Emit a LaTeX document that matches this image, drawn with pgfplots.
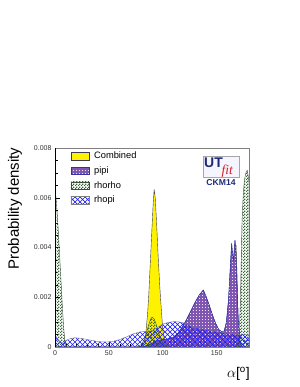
\documentclass[border=0pt]{standalone}
\usepackage{fontspec}
\setmainfont{Liberation Sans}
\newfontfamily\seriffont{Liberation Serif}
\usepackage{pgfplots}
\pgfplotsset{compat=1.18}
\usetikzlibrary{patterns}

\definecolor{pipic}{RGB}{128,86,178}
\definecolor{pipiline}{RGB}{50,50,160}
\definecolor{rhorhoc}{RGB}{55,105,55}
\definecolor{rhorholine}{RGB}{60,80,60}
\definecolor{rhopic}{RGB}{30,30,255}
\definecolor{combline}{RGB}{60,60,90}
\definecolor{navy}{RGB}{30,40,120}
\definecolor{utred}{RGB}{220,30,30}

\pgfdeclarepatternformonly{finecheck}{\pgfqpoint{0pt}{0pt}}{\pgfqpoint{3pt}{3pt}}{\pgfqpoint{3pt}{3pt}}{%
  \pgfpathrectangle{\pgfqpoint{0pt}{0pt}}{\pgfqpoint{1.5pt}{1.5pt}}%
  \pgfpathrectangle{\pgfqpoint{1.5pt}{1.5pt}}{\pgfqpoint{1.5pt}{1.5pt}}%
  \pgfusepath{fill}}
\pgfdeclarepatternformonly{finedots}{\pgfqpoint{0pt}{0pt}}{\pgfqpoint{2.5pt}{2.5pt}}{\pgfqpoint{2.5pt}{2.5pt}}{%
  \pgfpathrectangle{\pgfqpoint{0pt}{0pt}}{\pgfqpoint{1pt}{1pt}}%
  \pgfusepath{fill}}
\pgfdeclarepatternformonly{diagx}{\pgfqpoint{-1pt}{-1pt}}{\pgfqpoint{6pt}{6pt}}{\pgfqpoint{5pt}{5pt}}{%
  \pgfsetlinewidth{0.7pt}%
  \pgfpathmoveto{\pgfqpoint{0pt}{0pt}}\pgfpathlineto{\pgfqpoint{5.1pt}{5.1pt}}%
  \pgfpathmoveto{\pgfqpoint{0pt}{5pt}}\pgfpathlineto{\pgfqpoint{5.1pt}{-0.1pt}}%
  \pgfusepath{stroke}}

\pgfplotstableread{
x y
0 0
78 0
80 0.00002
82 0.0001
84 0.0004
86 0.0014
87 0.0021
88 0.0030
89 0.0039
90 0.0048
91 0.0057
92 0.00634
93 0.0060
94 0.0052
95 0.0043
96 0.0034
97 0.0026
98 0.0019
100 0.0007
102 0.0002
104 0.00003
106 0
165 0
166 0.0004
167 0.0018
168 0.0041
169 0.0028
170 0.0008
171 0.0001
172 0
180 0
}\combined

\pgfplotstableread{
x y
0 0
80 0
85 0.00005
90 0.00015
95 0.00025
100 0.0003
105 0.00032
110 0.0004
114 0.00055
118 0.0008
122 0.0011
126 0.00145
130 0.0018
134 0.0021
137.6 0.00229
140 0.00205
143 0.0017
146 0.0013
149 0.00095
152 0.0007
155 0.0006
157 0.00065
159 0.001
161 0.0019
162.5 0.0031
163.9 0.00417
164.8 0.0037
165.5 0.0035
166.3 0.0039
167 0.0043
167.8 0.0038
168.8 0.0025
170 0.0011
171.5 0.0003
173 0.00005
175 0
180 0
}\pipi

\pgfplotstableread{
x y
0 0.0063
1 0.0060
2 0.0054
3 0.0047
4 0.0039
5 0.0031
6 0.0023
7 0.0015
8 0.0008
9 0.0003
10 0.00005
11 0
76 0
80 0.0001
83 0.0003
85 0.0006
87 0.0009
89 0.00115
90.3 0.0012
92 0.00112
94 0.0009
96 0.0006
98 0.00035
100 0.00015
103 0.00003
105 0
168 0
170 0.0002
171 0.0006
172 0.0018
172.8 0.0035
173.5 0.0050
174.5 0.0060
175.5 0.0066
176.5 0.0069
177.5 0.00705
178.4 0.0071
179.2 0.0069
180 0.0066
}\rhorho

\pgfplotstableread{
x y
0 0.0005
2 0.00035
4 0.00022
6 0.00018
8 0.0002
11 0.00028
15 0.00035
19 0.00037
24 0.00035
30 0.0003
36 0.00025
42 0.00021
48 0.0002
54 0.00023
60 0.0003
66 0.0004
72 0.00052
78 0.0006
82 0.00062
86 0.00062
90 0.00066
95 0.00078
100 0.00092
105 0.00099
110 0.00102
115 0.00101
120 0.00096
125 0.00086
130 0.00078
140 0.0007
150 0.00062
160 0.00055
168 0.0005
174 0.00052
178 0.0005
180 0.00045
}\rhopi

\begin{document}
\begin{tikzpicture}[x=1pt,y=1pt]
\path[use as bounding box] (0,0) rectangle (299,387);
\begin{axis}[
  at={(55pt,40pt)}, anchor=south west,
  scale only axis, width=194pt, height=199pt,
  xmin=0, xmax=180, ymin=0, ymax=0.008,
  xtick={0,50,100,150}, minor x tick num=4,
  ytick={0,0.002,0.004,0.006,0.008}, minor y tick num=3,
  scaled y ticks=false,
  yticklabel style={/pgf/number format/fixed,/pgf/number format/precision=3},
  /pgf/number format/assume math mode=true,
  ticklabel style={font=\fontsize{7}{8}\selectfont, text=black!80},
  tick align=inside, xtick pos=bottom, ytick pos=left,
  major tick length=5pt, minor tick length=2.5pt,
  axis line style={draw=gray},
  tick style={black},
  legend style={at={(rel axis cs:0.08,0.99)}, anchor=north west, draw=none, fill=none,
    font=\fontsize{9.3}{10.6}\selectfont, row sep=2.4pt, inner sep=0pt,
    /tikz/every odd column/.append style={column sep=3pt}},
  legend cell align=left,
  legend image code/.code={\draw[#1] (0pt,-3.7pt) rectangle (18pt,3.7pt);},
]
\addplot[draw=combline, line width=0.4pt, fill=yellow] table {\combined} \closedcycle;
\addlegendentry{Combined}
\addplot[draw=pipiline, line width=0.4pt, fill=pipic, postaction={pattern=finedots, pattern color=white!85!pipic}] table {\pipi} \closedcycle;
\addlegendentry{pipi}
\addplot[draw=rhorholine, line width=0.4pt, pattern=finecheck, pattern color=rhorhoc] table {\rhorho} \closedcycle;
\addlegendentry{rhorho}
\addplot[draw=gray, line width=0.4pt, pattern=diagx, pattern color=rhopic] table {\rhopi} \closedcycle;
\addlegendentry{rhopi}
\draw[black, line width=0.6pt] (rel axis cs:0,1) -- (rel axis cs:0,0) -- (rel axis cs:1,0);
\end{axis}
\node[rotate=90, font=\fontsize{15}{18}\selectfont] at (15,178.5) {Probability density};
\node[anchor=east, font=\fontsize{14}{16}\selectfont, inner sep=0pt] at (250,13.5) {$\alpha$[$^{\mathrm{o}}$]};
% UTfit logo
\draw[gray!70, fill=blue!4, line width=0.6pt] (203,210) rectangle (239,231);
\node[anchor=base west, inner sep=0pt, text=navy, font=\bfseries\fontsize{14}{16}\selectfont] at (204,219) {UT};
\node[anchor=base west, inner sep=0pt, text=utred, font=\seriffont\itshape\fontsize{13.5}{16}\selectfont] at (221.5,212.5) {fit};
\node[text=navy, font=\bfseries\fontsize{8.6}{10}\selectfont, inner sep=0pt] at (221,204) {CKM14};
\end{tikzpicture}
\end{document}
